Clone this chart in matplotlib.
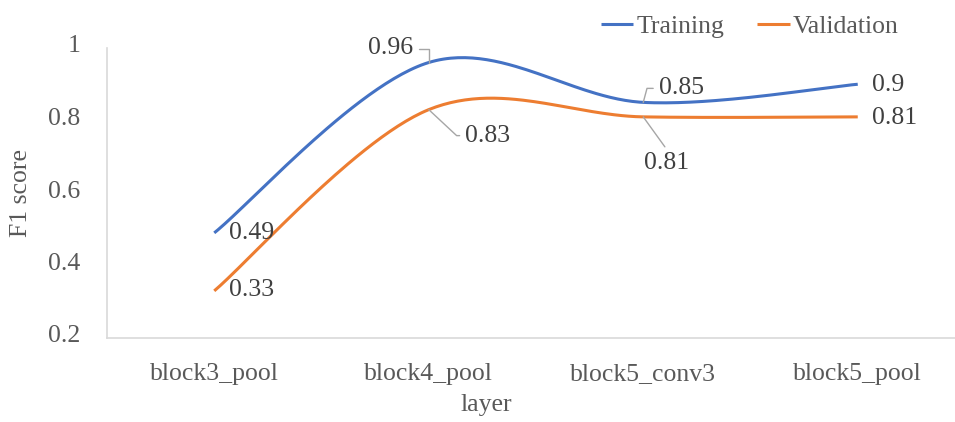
import matplotlib.pyplot as plt
import matplotlib.transforms as mtransforms
import numpy as np

layers = ["block3_pool", "block4_pool", "block5_conv3", "block5_pool"]
training = [0.49, 0.96, 0.85, 0.90]
validation = [0.33, 0.83, 0.81, 0.81]

BLUE = "#4472C4"
ORANGE = "#ED7D31"
TEXT = "#595959"
LEADER = "#A6A6A6"

plt.rcParams["font.family"] = ["Liberation Serif", "DejaVu Serif"]
plt.rcParams["font.size"] = 18.5


def smooth(ys, n=60):
    # Excel-style smoothed line: cubic Bezier segments, control points at 1/6 of neighbour span
    xs = np.arange(len(ys), dtype=float)
    ys = np.asarray(ys, dtype=float)
    px = np.concatenate([[xs[0]], xs, [xs[-1]]])
    py = np.concatenate([[ys[0]], ys, [ys[-1]]])
    t = np.linspace(0, 1, n)[:, None]
    out = []
    for i in range(1, len(px) - 2):
        p0 = np.array([px[i], py[i]])
        p3 = np.array([px[i + 1], py[i + 1]])
        c1 = p0 + (np.array([px[i + 1], py[i + 1]]) - np.array([px[i - 1], py[i - 1]])) / 6
        c2 = p3 - (np.array([px[i + 2], py[i + 2]]) - np.array([px[i], py[i]])) / 6
        seg = (1 - t) ** 3 * p0 + 3 * (1 - t) ** 2 * t * c1 + 3 * (1 - t) * t ** 2 * c2 + t ** 3 * p3
        out.append(seg if i == 1 else seg[1:])
    pts = np.vstack(out)
    return pts[:, 0], pts[:, 1]


fig = plt.figure(figsize=(9.55, 4.22), dpi=100)
ax = fig.add_axes([107 / 955, 1 - 338 / 422, 858 / 955, 290 / 422])

x, y = smooth(training)
ax.plot(x, y, color=BLUE, lw=2.2, solid_capstyle="butt", label="Training")
x, y = smooth(validation)
ax.plot(x, y, color=ORANGE, lw=2.2, solid_capstyle="butt", label="Validation")

ax.set_xlim(-0.5, 3.5)
ax.set_ylim(0.2, 1.0)
ax.set_yticks([0.2, 0.4, 0.6, 0.8, 1.0])
ax.set_yticklabels(["0.2", "0.4", "0.6", "0.8", "1"])
ax.set_xticks(range(len(layers)))
ax.set_xticklabels(layers)
ax.tick_params(axis="both", length=0, colors=TEXT)
ax.tick_params(axis="y", pad=19)
ax.tick_params(axis="x", pad=18)
# value labels on the y axis sit a little above their tick positions
lift = mtransforms.ScaledTranslation(0, 4 / 100, fig.dpi_scale_trans)
for t in ax.get_yticklabels():
    t.set_transform(t.get_transform() + lift)
for s in ["top", "right"]:
    ax.spines[s].set_visible(False)
for s in ["left", "bottom"]:
    ax.spines[s].set_color("#D9D9D9")
    ax.spines[s].set_linewidth(1.2)

ax.set_ylabel("F1 score", color=TEXT, labelpad=12)
ax.set_xlabel("layer", color=TEXT)
ax.xaxis.set_label_coords(0.442, -0.192)


def label(i, val, dx, dy, ha="center", leader=None):
    kw = {}
    if leader is not None:
        kw["arrowprops"] = dict(arrowstyle="-", color=LEADER, lw=1.0,
                                shrinkA=2, shrinkB=0, **leader)
    ax.annotate(f"{val:g}", xy=(i, val), xytext=(dx, dy - 3), textcoords="offset pixels",
                ha=ha, va="center", color="#404040", **kw)


# training labels
label(0, training[0], 15, 3, ha="left")
label(1, training[1], -38, 17,
      leader=dict(connectionstyle="angle,angleA=0,angleB=90,rad=0", relpos=(1, 0.5)))
label(2, training[2], 38, 17,
      leader=dict(connectionstyle="angle,angleA=0,angleB=75,rad=0", relpos=(0, 0.5)))
label(3, training[3], 14, 2, ha="left")

# validation labels
label(0, validation[0], 15, 4, ha="left")
label(1, validation[1], 59, -23,
      leader=dict(connectionstyle="angle,angleA=0,angleB=-43,rad=0", relpos=(0, 0.5)))
label(2, validation[2], 23, -43,
      leader=dict(connectionstyle="arc3,rad=0", relpos=(0.55, 1.0)))
label(3, validation[3], 14, 2, ha="left")

fig.legend(loc="center left", bbox_to_anchor=(601 / 955, 1 - 27 / 422), ncol=2,
           frameon=False, handlelength=1.25, handletextpad=0.12, columnspacing=1.3,
           borderpad=0, borderaxespad=0, labelcolor=TEXT)

fig.savefig("out.png", dpi=100)
